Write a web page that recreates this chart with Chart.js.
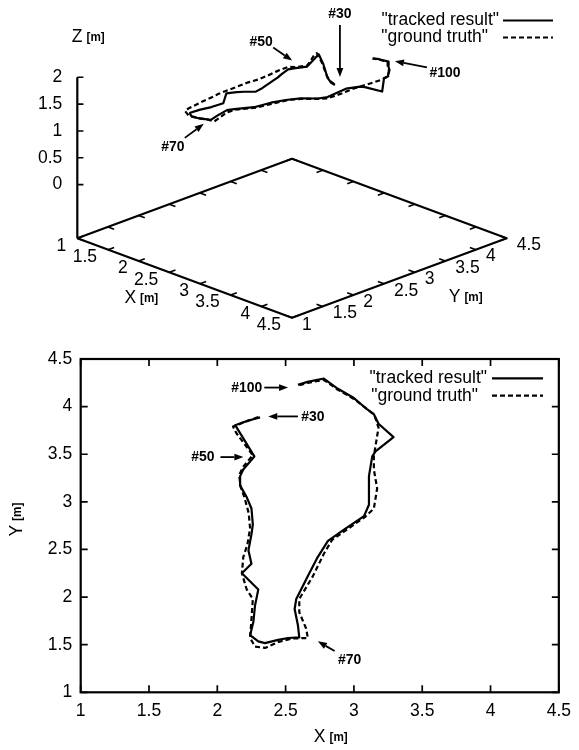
<!DOCTYPE html>
<html><head><meta charset="utf-8">
<script src="https://cdn.jsdelivr.net/npm/chart.js@4.4.1/dist/chart.umd.min.js"></script>
<style>
html,body{margin:0;padding:0;background:#fff;}
#wrap{position:relative;width:579px;height:750px;overflow:hidden;}
canvas{position:absolute;left:0;}
#c3d{top:0;}
#c2d{top:340px;}
</style></head><body>
<div id="wrap"><canvas id="c3d" width="579" height="340"></canvas><canvas id="c2d" width="579" height="410"></canvas></div>
<script>
// ---------------- data ----------------
const AXIS_TICKS = [1, 1.5, 2, 2.5, 3, 3.5, 4, 4.5];
const Z_TICKS = [0, 0.5, 1, 1.5, 2];
const SERIES_NAMES = ['"tracked result"', '"ground truth"'];

const TRACK_X = [2.313,2.27,2.228,2.18,2.131,2.271,2.19,2.167,2.167,2.215,2.25,2.26,2.25,2.228,2.25,2.18,2.30,2.276,2.264,2.24,2.30,2.349,2.445,2.518,2.60,2.59,2.566,2.578,2.663,2.735,2.81,2.93,3.074,3.11,3.11,3.134,3.158,3.29,3.18,3.146,3.098,3.0,2.88,2.78,2.66,2.59];
const TRACK_Y = [3.887,3.870,3.853,3.830,3.805,3.477,3.34,3.27,3.17,3.05,2.93,2.76,2.66,2.49,2.35,2.25,2.08,1.91,1.74,1.60,1.535,1.517,1.55,1.57,1.576,1.705,1.875,1.98,2.22,2.42,2.59,2.71,2.85,2.97,3.27,3.477,3.53,3.68,3.82,3.92,3.97,4.09,4.19,4.295,4.26,4.23];
const TRACK_Z = [1.19,1.22,1.30,1.55,1.72,1.69,1.68,1.68,1.64,1.64,1.64,1.59,1.56,1.62,1.68,1.67,1.61,1.60,1.62,1.61,1.65,1.62,1.61,1.62,1.64,1.67,1.68,1.66,1.63,1.66,1.67,1.70,1.70,1.69,1.72,1.68,1.66,1.57,1.71,1.69,1.68,1.67,1.66,1.65,1.66,1.66];

const TRUTH_X = [2.30,2.26,2.22,2.17,2.115,2.14,2.26,2.19,2.16,2.17,2.20,2.23,2.24,2.22,2.19,2.18,2.215,2.26,2.25,2.24,2.276,2.35,2.45,2.55,2.663,2.65,2.60,2.60,2.70,2.78,2.84,2.95,3.08,3.146,3.17,3.146,3.146,3.18,3.15,3.10,3.00,2.88,2.78,2.66,2.59];
const TRUTH_Y = [3.89,3.87,3.85,3.82,3.79,3.72,3.49,3.37,3.28,3.16,3.04,2.88,2.72,2.55,2.42,2.25,2.08,1.98,1.77,1.57,1.48,1.466,1.53,1.565,1.57,1.67,1.84,1.98,2.22,2.455,2.60,2.71,2.84,2.93,3.14,3.34,3.48,3.78,3.91,3.97,4.08,4.18,4.28,4.25,4.22];
const TRUTH_Z = [1.20,1.24,1.33,1.57,1.74,1.74,1.70,1.69,1.72,1.73,1.75,1.76,1.76,1.76,1.73,1.72,1.745,1.77,1.74,1.70,1.71,1.66,1.63,1.63,1.64,1.66,1.67,1.66,1.64,1.66,1.68,1.70,1.70,1.70,1.71,1.70,1.69,1.70,1.69,1.68,1.67,1.66,1.65,1.66,1.66];

// frame-number annotations
const FRAME_LABELS = ['#30', '#50', '#70', '#100'];
const FRAME_INDEX = [0, 5, 24, 45];          // index in tracked series (3D anchors)

// ---------------- styles / geometry ----------------
const FONT = "'Liberation Sans', Arial, sans-serif";
const FS = 17.5;
const TICK_FONT = FS + 'px ' + FONT;
const LW = 2.2;
const DASH = [5, 3];

// 3D view (gnuplot-like, az 45deg): horizontal u = x+y, vertical v = z - zfloor - tilt*(x-y)
const X0 = 1, X1 = 4.5, Y0 = 1, Y1 = 4.5;
const Z_FLOOR = -1;
const TILT = 0.4231;
const PX_U = 61.34, PX_V = 53.67;  // pixels per unit
const U_AT = 2, U_PX = 77.3, V_PX = 238.3; // anchor: left floor corner
const W3 = 579, H3 = 340;
const U_MIN = U_AT - U_PX / PX_U, U_MAX = U_MIN + W3 / PX_U;
const V_MAX = V_PX / PX_V, V_MIN = V_MAX - H3 / PX_V;

function proj(x, y, z) { return { x: x + y, y: (z - Z_FLOOR) - TILT * (x - y) }; }
const GAP = { x: null, y: null };

const floorPts = [proj(X0, Y0, Z_FLOOR), proj(X1, Y0, Z_FLOOR), proj(X1, Y1, Z_FLOOR), proj(X0, Y1, Z_FLOOR), proj(X0, Y0, Z_FLOOR)];
const zAxisPts = [proj(X0, Y0, Z_FLOOR), proj(X0, Y0, Z_TICKS[Z_TICKS.length - 1])];
const TL = 0.1;
const tickPts = [];
AXIS_TICKS.forEach(t => {
  tickPts.push(proj(t, Y0, Z_FLOOR), proj(t, Y0 + TL, Z_FLOOR), GAP);
  tickPts.push(proj(t, Y1, Z_FLOOR), proj(t, Y1 - TL, Z_FLOOR), GAP);
  tickPts.push(proj(X1, t, Z_FLOOR), proj(X1 - TL, t, Z_FLOOR), GAP);
  tickPts.push(proj(X0, t, Z_FLOOR), proj(X0 + TL, t, Z_FLOOR), GAP);
});
Z_TICKS.forEach(z => { const p = proj(X0, Y0, z); tickPts.push(p, { x: p.x + TL, y: p.y }, GAP); });

const track3 = TRACK_X.map((x, i) => proj(x, TRACK_Y[i], TRACK_Z[i]));
const truth3 = TRUTH_X.map((x, i) => proj(x, TRUTH_Y[i], TRUTH_Z[i]));
const track2 = TRACK_X.map((x, i) => ({ x, y: TRACK_Y[i] }));
const truth2 = TRUTH_X.map((x, i) => ({ x, y: TRUTH_Y[i] }));

// ---------------- helpers ----------------
function text(ctx, s, x, y, font, align, sx) {
  ctx.save();
  ctx.font = font; ctx.fillStyle = '#000'; ctx.textAlign = align || 'center'; ctx.textBaseline = 'middle';
  ctx.translate(x, y); if (sx) ctx.scale(sx, 1);
  ctx.fillText(s, 0, 0);
  ctx.restore();
}
function unitTitle(ctx, main, cx, cy, rot) {
  ctx.save();
  ctx.translate(cx, cy); if (rot) ctx.rotate(rot);
  ctx.fillStyle = '#000'; ctx.textBaseline = 'middle'; ctx.textAlign = 'left';
  const f1 = FS + 'px ' + FONT, f2 = 'bold 13px ' + FONT;
  ctx.font = f1; const w1 = ctx.measureText(main).width;
  ctx.font = f2; const w2 = ctx.measureText('[m]').width * 0.9;
  const gap = 4, tot = w1 + gap + w2;
  ctx.font = f1; ctx.fillText(main, -tot / 2, 0);
  ctx.font = f2; ctx.save(); ctx.translate(-tot / 2 + w1 + gap, 0); ctx.scale(0.9, 1); ctx.fillText('[m]', 0, 0); ctx.restore();
  ctx.restore();
}
function arrow(ctx, x1, y1, x2, y2) {
  ctx.save();
  ctx.strokeStyle = '#000'; ctx.fillStyle = '#000'; ctx.lineWidth = 1.8; ctx.setLineDash([]);
  const a = Math.atan2(y2 - y1, x2 - x1), L = 9, W = 3.4;
  const bx = x2 - L * Math.cos(a), by = y2 - L * Math.sin(a);
  ctx.beginPath(); ctx.moveTo(x1, y1); ctx.lineTo(bx, by); ctx.stroke();
  ctx.beginPath(); ctx.moveTo(x2, y2);
  ctx.lineTo(bx + W * Math.sin(a), by - W * Math.cos(a));
  ctx.lineTo(bx - W * Math.sin(a), by + W * Math.cos(a));
  ctx.closePath(); ctx.fill();
  ctx.restore();
}
function legend(ctx, rightX, y0, dy, x1, x2, ends) {
  SERIES_NAMES.forEach((n, i) => {
    const y = y0 + i * dy;
    text(ctx, n, rightX - ends[i], y, TICK_FONT, 'right');
    ctx.save(); ctx.strokeStyle = '#000'; ctx.lineWidth = LW; ctx.setLineDash(i ? DASH : []);
    ctx.beginPath(); ctx.moveTo(x1, y); ctx.lineTo(x2, y); ctx.stroke(); ctx.restore();
  });
}
const LABEL_FONT = 'bold 15.5px ' + FONT;

// ---------------- top: 3D view ----------------
const plugin3d = {
  id: 'deco3d',
  afterDatasetsDraw(chart) {
    const ctx = chart.ctx, xs = chart.scales.x, ys = chart.scales.y;
    const P = (p) => [xs.getPixelForValue(p.x), ys.getPixelForValue(p.y)];
    Z_TICKS.forEach(z => { const [px, py] = P(proj(X0, Y0, z)); text(ctx, String(z), px - 15, py, TICK_FONT, 'right'); });
    AXIS_TICKS.forEach(t => { const [px, py] = P(proj(t, Y0, Z_FLOOR)); text(ctx, String(t), px - 11, py + 7.5, TICK_FONT, 'right'); });
    AXIS_TICKS.forEach(t => { const [px, py] = P(proj(X1, t, Z_FLOOR)); text(ctx, String(t), px + 10, py + 7, TICK_FONT, 'left'); });
    { const [px, py] = P(proj(X0, Y0, Z_TICKS[Z_TICKS.length - 1])); unitTitle(ctx, 'Z', px + 11, py - 40); }
    { const [px, py] = P(proj(2.5, Y0, Z_FLOOR)); unitTitle(ctx, 'X', px - 28, py + 26); }
    { const [px, py] = P(proj(X1, 3.0, Z_FLOOR)); unitTitle(ctx, 'Y', px + 51, py + 25); }
    const off = [
      [[5, -8], [5, -60], [5, -71]],
      [[-15, -6], [-34, -19], [-46, -25]],
      [[-7, 4], [-26, 18], [-38, 27]],
      [[22, 3], [54, 9], [72, 14]]
    ];
    FRAME_LABELS.forEach((lab, k) => {
      const [ax, ay] = P(track3[FRAME_INDEX[k]]);
      const o = off[k];
      arrow(ctx, ax + o[1][0], ay + o[1][1], ax + o[0][0], ay + o[0][1]);
      text(ctx, lab, ax + o[2][0], ay + o[2][1], LABEL_FONT, 'center', 0.9);
    });
    legend(ctx, 499, 20.5, 17, 503, 553, [0, 11]);
  }
};

new Chart(document.getElementById('c3d'), {
  type: 'scatter',
  data: {
    datasets: [
      { data: floorPts, showLine: true, borderColor: '#000', borderWidth: LW, pointRadius: 0 },
      { data: zAxisPts, showLine: true, borderColor: '#000', borderWidth: LW, pointRadius: 0 },
      { data: tickPts, showLine: true, borderColor: '#000', borderWidth: 1.6, pointRadius: 0, spanGaps: false },
      { label: SERIES_NAMES[0], data: track3, showLine: true, borderColor: '#000', borderWidth: LW, pointRadius: 0 },
      { label: SERIES_NAMES[1], data: truth3, showLine: true, borderColor: '#000', borderWidth: LW, borderDash: DASH, pointRadius: 0 }
    ]
  },
  options: {
    responsive: false, animation: false, events: [],
    layout: { padding: 0 },
    plugins: { legend: { display: false }, tooltip: { enabled: false } },
    elements: { line: { tension: 0, borderJoinStyle: 'round', borderCapStyle: 'butt' } },
    scales: {
      x: { type: 'linear', display: false, min: U_MIN, max: U_MAX },
      y: { type: 'linear', display: false, min: V_MIN, max: V_MAX }
    }
  },
  plugins: [plugin3d]
});

// ---------------- bottom: 2D view ----------------
// annotation geometry in data coords: [label x,y], [tail x,y], [tip x,y]
const ANNOT2D = [
  ['#30', [2.699, 3.897], [2.590, 3.897], [2.373, 3.897]],
  ['#50', [1.894, 3.470], [2.023, 3.470], [2.191, 3.470]],
  ['#70', [2.968, 1.337], [2.859, 1.433], [2.736, 1.535]],
  ['#100', [2.215, 4.200], [2.344, 4.200], [2.518, 4.200]]
];

const plugin2d = {
  id: 'deco2d',
  afterDatasetsDraw(chart) {
    const ctx = chart.ctx, xs = chart.scales.x, ys = chart.scales.y, a = chart.chartArea;
    ctx.save();
    ctx.strokeStyle = '#000'; ctx.lineWidth = LW; ctx.setLineDash([]);
    ctx.strokeRect(a.left, a.top, a.right - a.left, a.bottom - a.top);
    ctx.lineWidth = 1.7;
    ctx.beginPath();
    AXIS_TICKS.forEach(t => {
      const px = xs.getPixelForValue(t), py = ys.getPixelForValue(t);
      ctx.moveTo(px, a.bottom); ctx.lineTo(px, a.bottom - 7);
      ctx.moveTo(px, a.top); ctx.lineTo(px, a.top + 7);
      ctx.moveTo(a.left, py); ctx.lineTo(a.left + 7, py);
      ctx.moveTo(a.right, py); ctx.lineTo(a.right - 7, py);
    });
    ctx.stroke();
    ctx.restore();
    ANNOT2D.forEach(([lab, l, t0, t1]) => {
      arrow(ctx, xs.getPixelForValue(t0[0]), ys.getPixelForValue(t0[1]), xs.getPixelForValue(t1[0]), ys.getPixelForValue(t1[1]));
      text(ctx, lab, xs.getPixelForValue(l[0]), ys.getPixelForValue(l[1]), LABEL_FONT, 'center', 0.9);
    });
    legend(ctx, 487, a.top + 19.3, 17.4, 492, 543, [0, 9]);
    unitTitle(ctx, 'X', (a.left + a.right) / 2 + 11, chart.height - 13);
    unitTitle(ctx, 'Y', 17, (a.top + a.bottom) / 2 - 6, -Math.PI / 2);
  }
};

const tickFmt = v => String(v);

new Chart(document.getElementById('c2d'), {
  type: 'scatter',
  data: {
    datasets: [
      { label: SERIES_NAMES[0], data: track2, showLine: true, borderColor: '#000', borderWidth: LW, pointRadius: 0 },
      { label: SERIES_NAMES[1], data: truth2, showLine: true, borderColor: '#000', borderWidth: LW, borderDash: DASH, pointRadius: 0 }
    ]
  },
  options: {
    responsive: false, animation: false, events: [],
    layout: { padding: { top: 10, right: 15.7, left: 0, bottom: 0 } },
    plugins: { legend: { display: false }, tooltip: { enabled: false } },
    elements: { line: { tension: 0, borderJoinStyle: 'round' } },
    scales: {
      x: {
        type: 'linear', min: AXIS_TICKS[0], max: AXIS_TICKS[AXIS_TICKS.length - 1],
        grid: { display: false, drawTicks: false }, border: { display: false },
        afterBuildTicks: s => { s.ticks = AXIS_TICKS.map(v => ({ value: v })); },
        afterFit: s => { s.height = 57.7; },
        ticks: { color: '#000', font: { family: FONT, size: FS }, padding: 8, maxRotation: 0, autoSkip: false, callback: tickFmt }
      },
      y: {
        type: 'linear', min: AXIS_TICKS[0], max: AXIS_TICKS[AXIS_TICKS.length - 1],
        grid: { display: false, drawTicks: false }, border: { display: false },
        afterBuildTicks: s => { s.ticks = AXIS_TICKS.map(v => ({ value: v })); },
        afterFit: s => { s.width = 80.7; },
        ticks: { color: '#000', font: { family: FONT, size: FS }, padding: 8.5, autoSkip: false, callback: tickFmt }
      }
    }
  },
  plugins: [plugin2d]
});
</script>
</body></html>
